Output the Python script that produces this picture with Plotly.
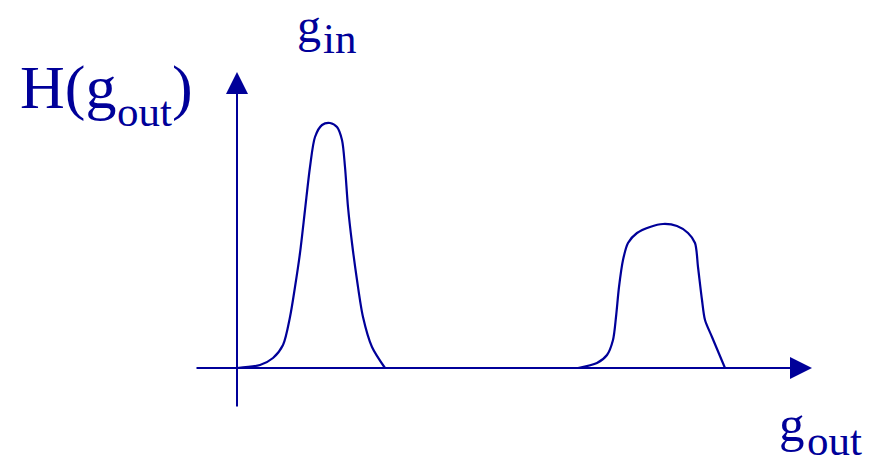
import plotly.graph_objects as go

# Schematic histogram H(g_out): two peaks (data units ~ pixels from origin)
peak1_x = [0, 23, 36, 46, 53, 58, 63, 68, 73, 78, 85, 93, 100, 105, 108, 111, 115, 120, 126, 135, 148]
peak1_h = [0, 3, 10, 23, 51, 81, 115, 158, 201, 231, 243, 245, 241, 228, 201, 161, 125, 88, 51, 21, 0]
peak2_x = [341, 360, 370, 376, 379, 382, 386, 391, 400, 413, 426, 440, 451, 458, 461, 465, 468, 475, 488]
peak2_h = [0, 5, 13, 28, 51, 81, 108, 125, 135, 141, 144, 142, 135, 125, 101, 68, 48, 31, 0]

x_axis_from, x_axis_to = -42, 575
y_axis_from, y_axis_to = -40, 296

# label pieces: (text, x, y, font size)
label_parts = [
    ("H(g", -219, 280.5, 62),
    ("out", -122, 257, 43),
    (")", -67, 280.5, 62),
    ("g", 58, 343, 48),
    ("in", 84, 330, 43),
    ("g", 540, -56, 51),
    ("out", 568, -72, 43),
]

COL = "#000099"
FONT = "Liberation Serif, Times New Roman, serif"

fig = go.Figure()
for xs, hs in [(peak1_x, peak1_h), (peak2_x, peak2_h)]:
    fig.add_trace(go.Scatter(x=xs, y=hs, mode="lines",
                             line=dict(color=COL, width=2.2, shape="spline", smoothing=0.8),
                             hoverinfo="skip", showlegend=False))

# axes arrows
fig.add_annotation(x=x_axis_to, y=0, ax=x_axis_from, ay=0, xref="x", yref="y",
                   axref="x", ayref="y", showarrow=True, arrowhead=2, arrowsize=2.2,
                   arrowwidth=2, arrowcolor=COL, text="")
fig.add_annotation(x=0, y=y_axis_to, ax=0, ay=y_axis_from, xref="x", yref="y",
                   axref="x", ayref="y", showarrow=True, arrowhead=2, arrowsize=2.2,
                   arrowwidth=2, arrowcolor=COL, text="")

for txt, lx, ly, fs in label_parts:
    fig.add_annotation(x=lx, y=ly, xref="x", yref="y", xanchor="left", yanchor="middle",
                       text=txt, showarrow=False,
                       font=dict(family=FONT, size=fs, color=COL))

fig.update_layout(
    width=880, height=459,
    margin=dict(l=0, r=0, t=0, b=0),
    paper_bgcolor="white", plot_bgcolor="white",
    xaxis=dict(range=[-237, 643], visible=False, fixedrange=True),
    yaxis=dict(range=[-91, 368], visible=False, fixedrange=True),
)
fig.write_html("out.html", config={"displayModeBar": False},
               post_script="document.body.style.margin='0';")
